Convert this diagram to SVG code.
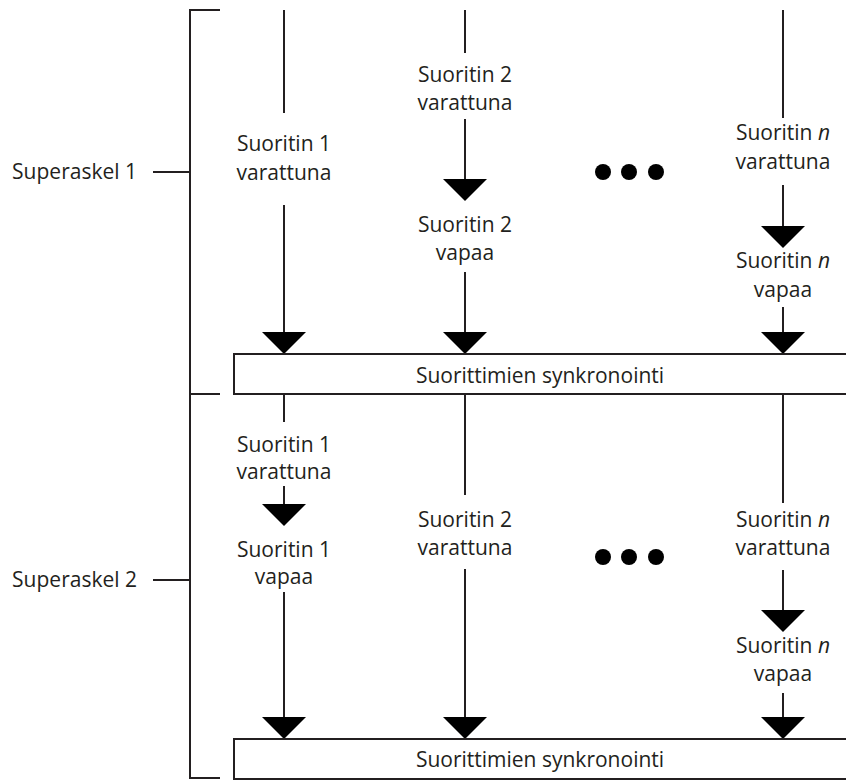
<svg xmlns="http://www.w3.org/2000/svg" width="846" height="780" viewBox="0 0 846 780">
  <style>
    .ln { stroke: #231f20; stroke-width: 2; fill: none; }
    .head { fill: #000; }
    .bar { fill: #fff; stroke: #231f20; stroke-width: 2; }
    text { font-family: "Open Sans", "Noto Sans", "Liberation Sans", sans-serif; font-size: 21px; fill: #231f20; text-anchor: middle; }
    .lbl { text-anchor: end; }
  </style>
  <defs>
    <polygon id="ah" class="head" points="-22,0 22,0 0,22"/>
  </defs>

  <!-- superstep brackets -->
  <g id="brackets">
    <path class="ln" d="M220,10 H190 V778 H220 M190,394 H220 M153,172 H190 M153,580 H190"/>
    <text class="lbl" x="137" y="179">Superaskel 1</text>
    <text class="lbl" x="137" y="587">Superaskel 2</text>
  </g>

  <!-- connectors -->
  <g id="connectors">
    <!-- superstep 1 -->
    <path class="ln" d="M284,10 V113 M284,205 V334"/>
    <path class="ln" d="M465,10 V53 M465,119 V181 M465,272 V334"/>
    <path class="ln" d="M783,10 V118 M783,185 V228 M783,307 V334"/>
    <use href="#ah" x="284" y="332"/>
    <use href="#ah" x="465" y="179"/>
    <use href="#ah" x="465" y="332"/>
    <use href="#ah" x="783" y="226"/>
    <use href="#ah" x="783" y="332"/>
    <!-- superstep 2 -->
    <path class="ln" d="M284,395 V422 M284,486 V506 M284,592 V719"/>
    <path class="ln" d="M465,395 V495 M465,569 V719"/>
    <path class="ln" d="M783,395 V503 M783,570 V612 M783,693 V719"/>
    <use href="#ah" x="284" y="504"/>
    <use href="#ah" x="284" y="717"/>
    <use href="#ah" x="465" y="717"/>
    <use href="#ah" x="783" y="610"/>
    <use href="#ah" x="783" y="717"/>
  </g>

  <!-- superstep 1 labels -->
  <g id="p1-busy-1"><text x="284" y="151">Suoritin 1</text><text x="284" y="180">varattuna</text></g>
  <g id="p2-busy-1"><text x="465" y="82">Suoritin 2</text><text x="465" y="110">varattuna</text></g>
  <g id="p2-free-1"><text x="465" y="232">Suoritin 2</text><text x="465" y="260">vapaa</text></g>
  <g id="pn-busy-1"><text x="783" y="140">Suoritin <tspan font-style="italic">n</tspan></text><text x="783" y="169">varattuna</text></g>
  <g id="pn-free-1"><text x="783" y="268">Suoritin <tspan font-style="italic">n</tspan></text><text x="783" y="297">vapaa</text></g>
  <g id="dots-1"><circle cx="603" cy="172" r="8"/><circle cx="629" cy="172" r="8"/><circle cx="656" cy="172" r="8"/></g>

  <g id="sync-1">
    <rect class="bar" x="234" y="354" width="620" height="40"/>
    <text x="540" y="383">Suorittimien synkronointi</text>
  </g>

  <!-- superstep 2 labels -->
  <g id="p1-busy-2"><text x="284" y="452">Suoritin 1</text><text x="284" y="479">varattuna</text></g>
  <g id="p1-free-2"><text x="284" y="557">Suoritin 1</text><text x="284" y="584">vapaa</text></g>
  <g id="p2-busy-2"><text x="465" y="527">Suoritin 2</text><text x="465" y="555">varattuna</text></g>
  <g id="pn-busy-2"><text x="783" y="527">Suoritin <tspan font-style="italic">n</tspan></text><text x="783" y="555">varattuna</text></g>
  <g id="pn-free-2"><text x="783" y="653">Suoritin <tspan font-style="italic">n</tspan></text><text x="783" y="681">vapaa</text></g>
  <g id="dots-2"><circle cx="603" cy="557" r="8"/><circle cx="629" cy="557" r="8"/><circle cx="656" cy="557" r="8"/></g>

  <g id="sync-2">
    <rect class="bar" x="234" y="739" width="620" height="40"/>
    <text x="540" y="767">Suorittimien synkronointi</text>
  </g>
</svg>
